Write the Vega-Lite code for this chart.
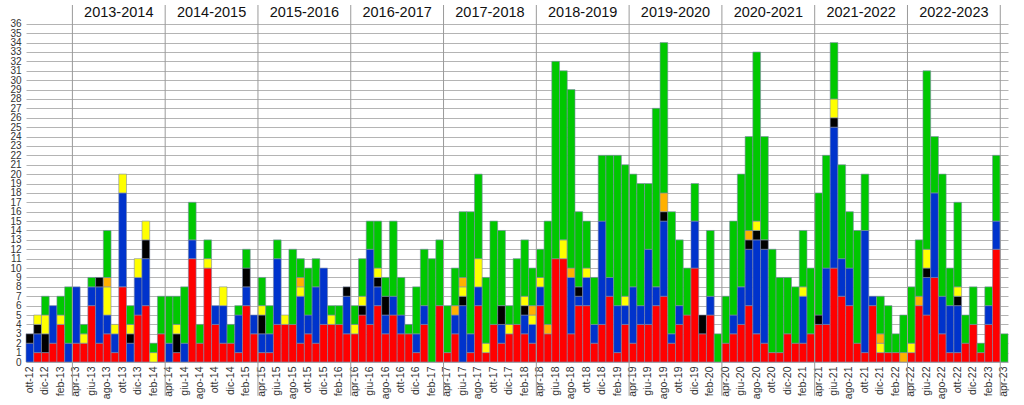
{
  "$schema": "https://vega.github.io/schema/vega-lite/v6.json",
  "width": 982,
  "height": 357,
  "autosize": {"type": "none"},
  "padding": {"left": 26, "top": 5, "right": 16, "bottom": 43},
  "background": "white",
  "config": {
    "view": {"stroke": null},
    "font": "Liberation Sans",
    "axisX": {
      "title": null,
      "labelAngle": 270,
      "labelFontSize": 10.5,
      "labelColor": "#333333",
      "labelPadding": 4,
      "labelOverlap": false,
      "ticks": false,
      "domain": false,
      "grid": false
    },
    "axisY": {
      "title": null,
      "labelFontSize": 10,
      "labelColor": "#333333",
      "labelPadding": 5,
      "labelOverlap": false,
      "ticks": false,
      "domain": false,
      "grid": true,
      "gridColor": "#b4b4b4",
      "gridWidth": 1
    }
  },
  "datasets": {
    "ordine": [
      {"cat": "rosso", "pos": 1},
      {"cat": "blu", "pos": 2},
      {"cat": "nero", "pos": 3},
      {"cat": "giallo", "pos": 4},
      {"cat": "arancio", "pos": 5},
      {"cat": "verde", "pos": 6}
    ],
    "stagioni": [
      {"m": "ott-13", "t": "2013-2014"},
      {"m": "ott-14", "t": "2014-2015"},
      {"m": "ott-15", "t": "2015-2016"},
      {"m": "ott-16", "t": "2016-2017"},
      {"m": "ott-17", "t": "2017-2018"},
      {"m": "ott-18", "t": "2018-2019"},
      {"m": "ott-19", "t": "2019-2020"},
      {"m": "ott-20", "t": "2020-2021"},
      {"m": "ott-21", "t": "2021-2022"},
      {"m": "ott-22", "t": "2022-2023"}
    ],
    "confini": [
      {"m": "apr-13"}, {"m": "apr-14"}, {"m": "apr-15"}, {"m": "apr-16"},
      {"m": "apr-17"}, {"m": "apr-18"}, {"m": "apr-19"}, {"m": "apr-20"},
      {"m": "apr-21"}, {"m": "apr-22"}, {"m": "apr-23"}
    ],
    "mesi": [
      {"m": "ott-12", "rosso": 0, "blu": 2, "nero": 1, "giallo": 0, "arancio": 0, "verde": 0},
      {"m": "nov-12", "rosso": 1, "blu": 2, "nero": 1, "giallo": 1, "arancio": 0, "verde": 0},
      {"m": "dic-12", "rosso": 1, "blu": 0, "nero": 2, "giallo": 2, "arancio": 0, "verde": 2},
      {"m": "gen-13", "rosso": 2, "blu": 4, "nero": 0, "giallo": 0, "arancio": 0, "verde": 0},
      {"m": "feb-13", "rosso": 4, "blu": 0, "nero": 0, "giallo": 1, "arancio": 0, "verde": 2},
      {"m": "mar-13", "rosso": 0, "blu": 2, "nero": 0, "giallo": 0, "arancio": 0, "verde": 6},
      {"m": "apr-13", "rosso": 2, "blu": 6, "nero": 0, "giallo": 0, "arancio": 0, "verde": 0},
      {"m": "mag-13", "rosso": 2, "blu": 0, "nero": 0, "giallo": 1, "arancio": 0, "verde": 1},
      {"m": "giu-13", "rosso": 6, "blu": 2, "nero": 0, "giallo": 0, "arancio": 0, "verde": 1},
      {"m": "lug-13", "rosso": 2, "blu": 6, "nero": 1, "giallo": 0, "arancio": 0, "verde": 0},
      {"m": "ago-13", "rosso": 3, "blu": 2, "nero": 0, "giallo": 3, "arancio": 1, "verde": 5},
      {"m": "set-13", "rosso": 1, "blu": 2, "nero": 0, "giallo": 1, "arancio": 0, "verde": 0},
      {"m": "ott-13", "rosso": 8, "blu": 10, "nero": 0, "giallo": 2, "arancio": 0, "verde": 0},
      {"m": "nov-13", "rosso": 0, "blu": 2, "nero": 1, "giallo": 1, "arancio": 0, "verde": 2},
      {"m": "dic-13", "rosso": 5, "blu": 4, "nero": 0, "giallo": 2, "arancio": 0, "verde": 0},
      {"m": "gen-14", "rosso": 6, "blu": 5, "nero": 2, "giallo": 2, "arancio": 0, "verde": 0},
      {"m": "feb-14", "rosso": 0, "blu": 0, "nero": 0, "giallo": 1, "arancio": 0, "verde": 1},
      {"m": "mar-14", "rosso": 3, "blu": 0, "nero": 0, "giallo": 0, "arancio": 0, "verde": 4},
      {"m": "apr-14", "rosso": 0, "blu": 2, "nero": 0, "giallo": 0, "arancio": 0, "verde": 5},
      {"m": "mag-14", "rosso": 1, "blu": 0, "nero": 2, "giallo": 1, "arancio": 0, "verde": 3},
      {"m": "giu-14", "rosso": 0, "blu": 2, "nero": 0, "giallo": 0, "arancio": 0, "verde": 6},
      {"m": "lug-14", "rosso": 11, "blu": 2, "nero": 0, "giallo": 0, "arancio": 0, "verde": 4},
      {"m": "ago-14", "rosso": 2, "blu": 0, "nero": 0, "giallo": 0, "arancio": 0, "verde": 2},
      {"m": "set-14", "rosso": 10, "blu": 0, "nero": 0, "giallo": 1, "arancio": 0, "verde": 2},
      {"m": "ott-14", "rosso": 4, "blu": 2, "nero": 0, "giallo": 0, "arancio": 0, "verde": 0},
      {"m": "nov-14", "rosso": 2, "blu": 4, "nero": 0, "giallo": 2, "arancio": 0, "verde": 0},
      {"m": "dic-14", "rosso": 2, "blu": 0, "nero": 0, "giallo": 0, "arancio": 0, "verde": 2},
      {"m": "gen-15", "rosso": 1, "blu": 4, "nero": 0, "giallo": 0, "arancio": 0, "verde": 1},
      {"m": "feb-15", "rosso": 6, "blu": 2, "nero": 2, "giallo": 0, "arancio": 0, "verde": 2},
      {"m": "mar-15", "rosso": 3, "blu": 2, "nero": 0, "giallo": 0, "arancio": 0, "verde": 0},
      {"m": "apr-15", "rosso": 1, "blu": 2, "nero": 2, "giallo": 1, "arancio": 0, "verde": 3},
      {"m": "mag-15", "rosso": 1, "blu": 2, "nero": 0, "giallo": 0, "arancio": 0, "verde": 3},
      {"m": "giu-15", "rosso": 4, "blu": 7, "nero": 0, "giallo": 0, "arancio": 0, "verde": 2},
      {"m": "lug-15", "rosso": 4, "blu": 0, "nero": 0, "giallo": 1, "arancio": 0, "verde": 0},
      {"m": "ago-15", "rosso": 4, "blu": 0, "nero": 0, "giallo": 0, "arancio": 0, "verde": 8},
      {"m": "set-15", "rosso": 2, "blu": 5, "nero": 0, "giallo": 1, "arancio": 1, "verde": 2},
      {"m": "ott-15", "rosso": 3, "blu": 2, "nero": 0, "giallo": 0, "arancio": 0, "verde": 5},
      {"m": "nov-15", "rosso": 2, "blu": 6, "nero": 0, "giallo": 0, "arancio": 0, "verde": 3},
      {"m": "dic-15", "rosso": 4, "blu": 6, "nero": 0, "giallo": 0, "arancio": 0, "verde": 0},
      {"m": "gen-16", "rosso": 4, "blu": 0, "nero": 0, "giallo": 1, "arancio": 0, "verde": 1},
      {"m": "feb-16", "rosso": 4, "blu": 0, "nero": 0, "giallo": 0, "arancio": 0, "verde": 2},
      {"m": "mar-16", "rosso": 3, "blu": 4, "nero": 1, "giallo": 0, "arancio": 0, "verde": 0},
      {"m": "apr-16", "rosso": 3, "blu": 0, "nero": 0, "giallo": 1, "arancio": 0, "verde": 2},
      {"m": "mag-16", "rosso": 5, "blu": 0, "nero": 1, "giallo": 1, "arancio": 0, "verde": 4},
      {"m": "giu-16", "rosso": 4, "blu": 8, "nero": 0, "giallo": 0, "arancio": 0, "verde": 3},
      {"m": "lug-16", "rosso": 6, "blu": 2, "nero": 1, "giallo": 1, "arancio": 0, "verde": 5},
      {"m": "ago-16", "rosso": 3, "blu": 2, "nero": 2, "giallo": 0, "arancio": 0, "verde": 2},
      {"m": "set-16", "rosso": 5, "blu": 2, "nero": 0, "giallo": 0, "arancio": 0, "verde": 8},
      {"m": "ott-16", "rosso": 3, "blu": 2, "nero": 0, "giallo": 0, "arancio": 0, "verde": 4},
      {"m": "nov-16", "rosso": 3, "blu": 0, "nero": 0, "giallo": 0, "arancio": 0, "verde": 1},
      {"m": "dic-16", "rosso": 1, "blu": 2, "nero": 0, "giallo": 0, "arancio": 0, "verde": 5},
      {"m": "gen-17", "rosso": 4, "blu": 2, "nero": 0, "giallo": 0, "arancio": 0, "verde": 6},
      {"m": "feb-17", "rosso": 0, "blu": 0, "nero": 0, "giallo": 0, "arancio": 0, "verde": 11},
      {"m": "mar-17", "rosso": 6, "blu": 0, "nero": 0, "giallo": 0, "arancio": 0, "verde": 7},
      {"m": "apr-17", "rosso": 1, "blu": 0, "nero": 0, "giallo": 0, "arancio": 0, "verde": 5},
      {"m": "mag-17", "rosso": 3, "blu": 2, "nero": 0, "giallo": 0, "arancio": 1, "verde": 4},
      {"m": "giu-17", "rosso": 0, "blu": 6, "nero": 1, "giallo": 1, "arancio": 1, "verde": 7},
      {"m": "lug-17", "rosso": 1, "blu": 2, "nero": 0, "giallo": 0, "arancio": 0, "verde": 13},
      {"m": "ago-17", "rosso": 6, "blu": 2, "nero": 0, "giallo": 3, "arancio": 0, "verde": 9},
      {"m": "set-17", "rosso": 1, "blu": 0, "nero": 0, "giallo": 1, "arancio": 0, "verde": 7},
      {"m": "ott-17", "rosso": 4, "blu": 0, "nero": 0, "giallo": 0, "arancio": 0, "verde": 11},
      {"m": "nov-17", "rosso": 2, "blu": 2, "nero": 2, "giallo": 0, "arancio": 0, "verde": 8},
      {"m": "dic-17", "rosso": 3, "blu": 0, "nero": 0, "giallo": 1, "arancio": 0, "verde": 2},
      {"m": "gen-18", "rosso": 4, "blu": 0, "nero": 0, "giallo": 0, "arancio": 0, "verde": 7},
      {"m": "feb-18", "rosso": 3, "blu": 2, "nero": 1, "giallo": 1, "arancio": 0, "verde": 6},
      {"m": "mar-18", "rosso": 2, "blu": 2, "nero": 0, "giallo": 1, "arancio": 1, "verde": 4},
      {"m": "apr-18", "rosso": 6, "blu": 2, "nero": 0, "giallo": 1, "arancio": 0, "verde": 3},
      {"m": "mag-18", "rosso": 3, "blu": 0, "nero": 0, "giallo": 0, "arancio": 1, "verde": 11},
      {"m": "giu-18", "rosso": 11, "blu": 0, "nero": 0, "giallo": 0, "arancio": 0, "verde": 21},
      {"m": "lug-18", "rosso": 11, "blu": 0, "nero": 0, "giallo": 2, "arancio": 0, "verde": 18},
      {"m": "ago-18", "rosso": 3, "blu": 6, "nero": 0, "giallo": 0, "arancio": 1, "verde": 19},
      {"m": "set-18", "rosso": 6, "blu": 1, "nero": 1, "giallo": 0, "arancio": 0, "verde": 8},
      {"m": "ott-18", "rosso": 6, "blu": 3, "nero": 0, "giallo": 1, "arancio": 0, "verde": 5},
      {"m": "nov-18", "rosso": 2, "blu": 2, "nero": 0, "giallo": 0, "arancio": 0, "verde": 5},
      {"m": "dic-18", "rosso": 4, "blu": 11, "nero": 0, "giallo": 0, "arancio": 0, "verde": 7},
      {"m": "gen-19", "rosso": 7, "blu": 2, "nero": 0, "giallo": 0, "arancio": 0, "verde": 13},
      {"m": "feb-19", "rosso": 1, "blu": 5, "nero": 0, "giallo": 0, "arancio": 0, "verde": 16},
      {"m": "mar-19", "rosso": 4, "blu": 2, "nero": 0, "giallo": 1, "arancio": 0, "verde": 14},
      {"m": "apr-19", "rosso": 2, "blu": 6, "nero": 0, "giallo": 0, "arancio": 0, "verde": 12},
      {"m": "mag-19", "rosso": 4, "blu": 2, "nero": 0, "giallo": 0, "arancio": 0, "verde": 13},
      {"m": "giu-19", "rosso": 4, "blu": 8, "nero": 0, "giallo": 0, "arancio": 0, "verde": 7},
      {"m": "lug-19", "rosso": 6, "blu": 2, "nero": 0, "giallo": 0, "arancio": 0, "verde": 19},
      {"m": "ago-19", "rosso": 7, "blu": 8, "nero": 1, "giallo": 0, "arancio": 2, "verde": 16},
      {"m": "set-19", "rosso": 2, "blu": 1, "nero": 0, "giallo": 0, "arancio": 0, "verde": 13},
      {"m": "ott-19", "rosso": 4, "blu": 2, "nero": 0, "giallo": 0, "arancio": 0, "verde": 7},
      {"m": "nov-19", "rosso": 5, "blu": 0, "nero": 0, "giallo": 0, "arancio": 0, "verde": 5},
      {"m": "dic-19", "rosso": 10, "blu": 5, "nero": 0, "giallo": 0, "arancio": 0, "verde": 4},
      {"m": "gen-20", "rosso": 3, "blu": 0, "nero": 2, "giallo": 0, "arancio": 0, "verde": 0},
      {"m": "feb-20", "rosso": 5, "blu": 2, "nero": 0, "giallo": 0, "arancio": 0, "verde": 7},
      {"m": "mar-20", "rosso": 0, "blu": 0, "nero": 0, "giallo": 0, "arancio": 0, "verde": 3},
      {"m": "apr-20", "rosso": 2, "blu": 0, "nero": 0, "giallo": 0, "arancio": 0, "verde": 5},
      {"m": "mag-20", "rosso": 3, "blu": 2, "nero": 0, "giallo": 0, "arancio": 0, "verde": 10},
      {"m": "giu-20", "rosso": 4, "blu": 4, "nero": 0, "giallo": 0, "arancio": 0, "verde": 12},
      {"m": "lug-20", "rosso": 6, "blu": 6, "nero": 1, "giallo": 0, "arancio": 1, "verde": 10},
      {"m": "ago-20", "rosso": 3, "blu": 10, "nero": 1, "giallo": 1, "arancio": 0, "verde": 18},
      {"m": "set-20", "rosso": 2, "blu": 10, "nero": 1, "giallo": 0, "arancio": 0, "verde": 11},
      {"m": "ott-20", "rosso": 1, "blu": 0, "nero": 0, "giallo": 0, "arancio": 0, "verde": 11},
      {"m": "nov-20", "rosso": 1, "blu": 0, "nero": 0, "giallo": 0, "arancio": 0, "verde": 8},
      {"m": "dic-20", "rosso": 3, "blu": 0, "nero": 0, "giallo": 0, "arancio": 0, "verde": 6},
      {"m": "gen-21", "rosso": 2, "blu": 0, "nero": 0, "giallo": 0, "arancio": 0, "verde": 6},
      {"m": "feb-21", "rosso": 2, "blu": 5, "nero": 0, "giallo": 1, "arancio": 0, "verde": 6},
      {"m": "mar-21", "rosso": 3, "blu": 0, "nero": 0, "giallo": 0, "arancio": 0, "verde": 7},
      {"m": "apr-21", "rosso": 4, "blu": 0, "nero": 1, "giallo": 0, "arancio": 0, "verde": 13},
      {"m": "mag-21", "rosso": 4, "blu": 6, "nero": 0, "giallo": 0, "arancio": 0, "verde": 12},
      {"m": "giu-21", "rosso": 10, "blu": 15, "nero": 1, "giallo": 2, "arancio": 0, "verde": 6},
      {"m": "lug-21", "rosso": 7, "blu": 4, "nero": 0, "giallo": 0, "arancio": 0, "verde": 10},
      {"m": "ago-21", "rosso": 6, "blu": 4, "nero": 0, "giallo": 0, "arancio": 0, "verde": 6},
      {"m": "set-21", "rosso": 2, "blu": 0, "nero": 0, "giallo": 0, "arancio": 0, "verde": 12},
      {"m": "ott-21", "rosso": 1, "blu": 13, "nero": 0, "giallo": 0, "arancio": 0, "verde": 6},
      {"m": "nov-21", "rosso": 6, "blu": 1, "nero": 0, "giallo": 0, "arancio": 0, "verde": 0},
      {"m": "dic-21", "rosso": 1, "blu": 0, "nero": 0, "giallo": 1, "arancio": 1, "verde": 4},
      {"m": "gen-22", "rosso": 1, "blu": 0, "nero": 0, "giallo": 0, "arancio": 0, "verde": 5},
      {"m": "feb-22", "rosso": 1, "blu": 0, "nero": 0, "giallo": 0, "arancio": 0, "verde": 2},
      {"m": "mar-22", "rosso": 0, "blu": 0, "nero": 0, "giallo": 0, "arancio": 1, "verde": 4},
      {"m": "apr-22", "rosso": 1, "blu": 0, "nero": 0, "giallo": 1, "arancio": 0, "verde": 6},
      {"m": "mag-22", "rosso": 6, "blu": 0, "nero": 0, "giallo": 0, "arancio": 1, "verde": 6},
      {"m": "giu-22", "rosso": 5, "blu": 4, "nero": 1, "giallo": 2, "arancio": 0, "verde": 19},
      {"m": "lug-22", "rosso": 9, "blu": 9, "nero": 0, "giallo": 0, "arancio": 0, "verde": 6},
      {"m": "ago-22", "rosso": 3, "blu": 4, "nero": 0, "giallo": 0, "arancio": 0, "verde": 13},
      {"m": "set-22", "rosso": 1, "blu": 5, "nero": 0, "giallo": 0, "arancio": 0, "verde": 4},
      {"m": "ott-22", "rosso": 1, "blu": 5, "nero": 1, "giallo": 1, "arancio": 0, "verde": 9},
      {"m": "nov-22", "rosso": 2, "blu": 0, "nero": 0, "giallo": 0, "arancio": 0, "verde": 3},
      {"m": "dic-22", "rosso": 4, "blu": 0, "nero": 0, "giallo": 0, "arancio": 0, "verde": 4},
      {"m": "gen-23", "rosso": 1, "blu": 0, "nero": 0, "giallo": 0, "arancio": 0, "verde": 1},
      {"m": "feb-23", "rosso": 4, "blu": 2, "nero": 0, "giallo": 0, "arancio": 0, "verde": 2},
      {"m": "mar-23", "rosso": 12, "blu": 3, "nero": 0, "giallo": 0, "arancio": 0, "verde": 7},
      {"m": "apr-23", "rosso": 0, "blu": 0, "nero": 0, "giallo": 0, "arancio": 0, "verde": 3}
    ]
  },
  "layer": [
    {
      "data": {"name": "mesi"},
      "transform": [
        {"fold": ["rosso", "blu", "nero", "giallo", "arancio", "verde"], "as": ["cat", "n"]},
        {"filter": "datum.n > 0"},
        {"lookup": "cat", "from": {"data": {"name": "ordine"}, "key": "cat", "fields": ["pos"]}}
      ],
      "mark": {"type": "bar", "stroke": "#7d8aa8", "strokeWidth": 0.6},
      "encoding": {
        "x": {
          "field": "m", "type": "ordinal", "title": null,
          "scale": {
            "paddingInner": 0, "paddingOuter": 0,
            "domain": ["ott-12","nov-12","dic-12",
              "gen-13","feb-13","mar-13","apr-13","mag-13","giu-13","lug-13","ago-13","set-13","ott-13","nov-13","dic-13",
              "gen-14","feb-14","mar-14","apr-14","mag-14","giu-14","lug-14","ago-14","set-14","ott-14","nov-14","dic-14",
              "gen-15","feb-15","mar-15","apr-15","mag-15","giu-15","lug-15","ago-15","set-15","ott-15","nov-15","dic-15",
              "gen-16","feb-16","mar-16","apr-16","mag-16","giu-16","lug-16","ago-16","set-16","ott-16","nov-16","dic-16",
              "gen-17","feb-17","mar-17","apr-17","mag-17","giu-17","lug-17","ago-17","set-17","ott-17","nov-17","dic-17",
              "gen-18","feb-18","mar-18","apr-18","mag-18","giu-18","lug-18","ago-18","set-18","ott-18","nov-18","dic-18",
              "gen-19","feb-19","mar-19","apr-19","mag-19","giu-19","lug-19","ago-19","set-19","ott-19","nov-19","dic-19",
              "gen-20","feb-20","mar-20","apr-20","mag-20","giu-20","lug-20","ago-20","set-20","ott-20","nov-20","dic-20",
              "gen-21","feb-21","mar-21","apr-21","mag-21","giu-21","lug-21","ago-21","set-21","ott-21","nov-21","dic-21",
              "gen-22","feb-22","mar-22","apr-22","mag-22","giu-22","lug-22","ago-22","set-22","ott-22","nov-22","dic-22",
              "gen-23","feb-23","mar-23","apr-23"]
          },
          "axis": {
            "title": null,
            "labelAngle": 270,
            "values": ["ott-12","dic-12","feb-13","apr-13","giu-13","ago-13","ott-13","dic-13",
              "feb-14","apr-14","giu-14","ago-14","ott-14","dic-14",
              "feb-15","apr-15","giu-15","ago-15","ott-15","dic-15",
              "feb-16","apr-16","giu-16","ago-16","ott-16","dic-16",
              "feb-17","apr-17","giu-17","ago-17","ott-17","dic-17",
              "feb-18","apr-18","giu-18","ago-18","ott-18","dic-18",
              "feb-19","apr-19","giu-19","ago-19","ott-19","dic-19",
              "feb-20","apr-20","giu-20","ago-20","ott-20","dic-20",
              "feb-21","apr-21","giu-21","ago-21","ott-21","dic-21",
              "feb-22","apr-22","giu-22","ago-22","ott-22","dic-22",
              "feb-23","apr-23"]
          }
        },
        "y": {
          "field": "n", "type": "quantitative", "stack": "zero", "title": null,
          "scale": {"domain": [0, 38], "nice": false, "zero": true},
          "axis": {
            "title": null,
            "values": [0,1,2,3,4,5,6,7,8,9,10,11,12,13,14,15,16,17,18,19,20,21,22,23,24,25,26,27,28,29,30,31,32,33,34,35,36]
          }
        },
        "color": {
          "field": "cat", "type": "nominal",
          "scale": {
            "domain": ["rosso", "blu", "nero", "giallo", "arancio", "verde"],
            "range": ["#ff0000", "#0033cc", "#000000", "#ffff00", "#ffb000", "#00c800"]
          },
          "legend": null
        },
        "order": {"field": "pos", "type": "quantitative"}
      }
    },
    {
      "data": {"name": "confini"},
      "mark": {"type": "rule", "color": "#9a9a9a", "strokeWidth": 1},
      "encoding": {
        "x": {"field": "m", "type": "ordinal", "bandPosition": 0, "title": null},
        "y": {"datum": -3.6, "type": "quantitative", "title": null,
          "axis": {"title": null, "values": [0,1,2,3,4,5,6,7,8,9,10,11,12,13,14,15,16,17,18,19,20,21,22,23,24,25,26,27,28,29,30,31,32,33,34,35,36]}},
        "y2": {"datum": 38}
      }
    },
    {
      "data": {"name": "stagioni"},
      "mark": {"type": "text", "fontSize": 14.5, "color": "#111111", "baseline": "middle", "align": "center"},
      "encoding": {
        "x": {"field": "m", "type": "ordinal", "bandPosition": 0, "title": null},
        "y": {"datum": 37.2, "type": "quantitative", "title": null,
          "axis": {"title": null, "values": [0,1,2,3,4,5,6,7,8,9,10,11,12,13,14,15,16,17,18,19,20,21,22,23,24,25,26,27,28,29,30,31,32,33,34,35,36]}},
        "text": {"field": "t"}
      }
    }
  ]
}
